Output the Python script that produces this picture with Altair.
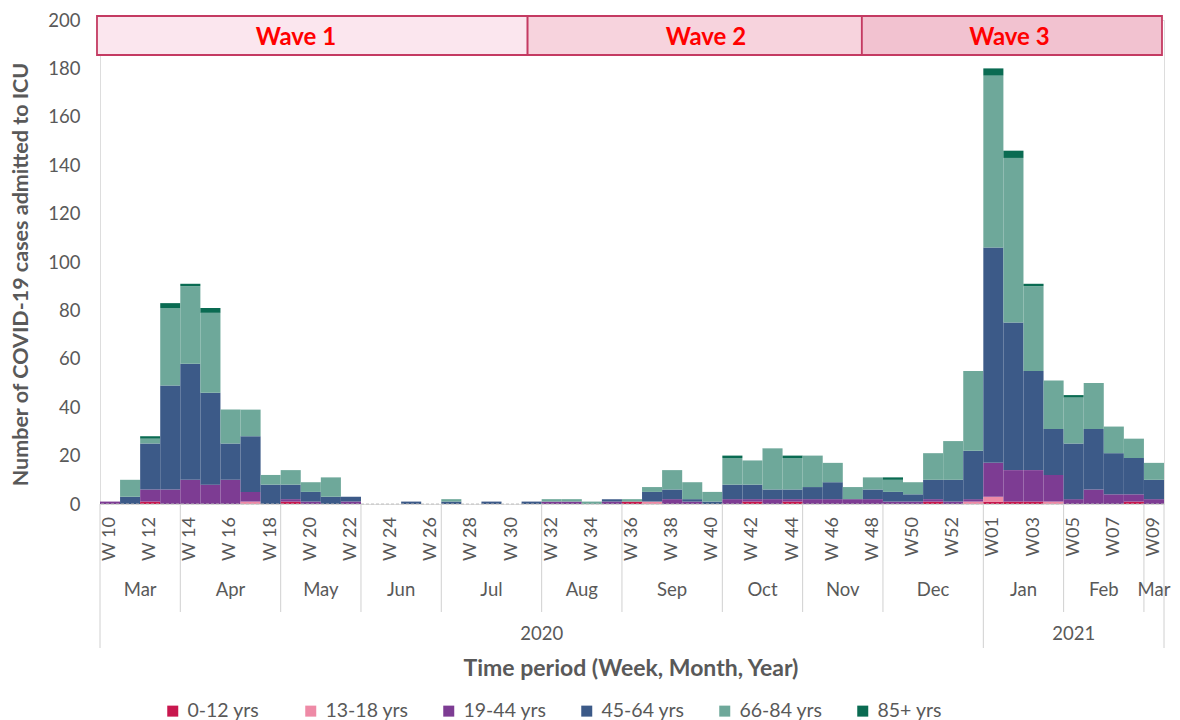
import altair as alt
import pandas as pd

# ---------------- data ----------------
weeks = ["W 10", "W 11", "W 12", "W 13", "W 14", "W 15", "W 16", "W 17", "W 18", "W 19",
         "W 20", "W 21", "W 22", "W 23", "W 24", "W 25", "W 26", "W 27", "W 28", "W 29",
         "W 30", "W 31", "W 32", "W 33", "W 34", "W 35", "W 36", "W 37", "W 38", "W 39",
         "W 40", "W 41", "W 42", "W 43", "W 44", "W 45", "W 46", "W 47", "W 48", "W49",
         "W50", "W51", "W52", "W53", "W01", "W02", "W03", "W04", "W05", "W06",
         "W07", "W08", "W09"]
months = (["Mar"] * 4 + ["Apr"] * 5 + ["May"] * 4 + ["Jun"] * 4 + ["Jul"] * 5 + ["Aug"] * 4
          + ["Sep"] * 5 + ["Oct"] * 4 + ["Nov"] * 4 + ["Dec"] * 5
          + ["Jan"] * 4 + ["Feb"] * 4 + ["Mar"] * 1)
years = ["2020"] * 44 + ["2021"] * 9

groups = ["0-12 yrs", "13-18 yrs", "19-44 yrs", "45-64 yrs", "66-84 yrs", "85+ yrs"]
colors = ["#C8174E", "#EE8AA6", "#7D3C93", "#3C5A88", "#6EA89A", "#0A6B52"]

age_0_12 = [0, 0, 1, 0, 0, 0, 0, 0, 0, 1, 0, 0, 0, 0, 0, 0, 0, 0, 0, 0,
            0, 0, 0, 0, 0, 0, 1, 0, 0, 0, 0, 0, 1, 0, 1, 0, 0, 0, 0, 0,
            0, 1, 0, 0, 1, 1, 1, 0, 0, 0, 0, 1, 0]
age_13_18 = [0, 0, 0, 0, 0, 0, 0, 1, 0, 0, 0, 0, 0, 0, 0, 0, 0, 0, 0, 0,
             0, 0, 0, 0, 0, 0, 0, 1, 0, 0, 0, 0, 0, 0, 0, 0, 0, 0, 0, 0,
             0, 0, 0, 1, 2, 0, 0, 1, 0, 0, 0, 0, 0]
age_19_44 = [1, 0, 5, 6, 10, 8, 10, 4, 0, 1, 1, 0, 1, 0, 0, 0, 0, 0, 0, 0,
             0, 0, 1, 1, 0, 1, 0, 0, 2, 1, 0, 2, 1, 2, 1, 2, 2, 2, 2, 1,
             1, 1, 1, 1, 14, 13, 13, 11, 2, 6, 4, 3, 2]
age_45_64 = [0, 3, 19, 43, 48, 38, 15, 23, 8, 6, 4, 3, 2, 0, 0, 1, 0, 1, 0, 1,
             0, 1, 0, 0, 0, 1, 0, 4, 4, 1, 1, 6, 6, 4, 4, 5, 7, 0, 4, 4,
             3, 8, 9, 20, 89, 61, 41, 19, 23, 25, 17, 15, 8]
age_66_84 = [0, 7, 2, 32, 32, 33, 14, 11, 4, 6, 4, 8, 0, 0, 0, 0, 0, 1, 0, 0,
             0, 0, 1, 1, 1, 0, 1, 2, 8, 7, 4, 11, 10, 17, 13, 13, 8, 5, 5, 5,
             5, 11, 16, 33, 71, 68, 35, 20, 19, 19, 11, 8, 7]
age_85p = [0, 0, 1, 2, 1, 2, 0, 0, 0, 0, 0, 0, 0, 0, 0, 0, 0, 0, 0, 0,
           0, 0, 0, 0, 0, 0, 0, 0, 0, 0, 0, 1, 0, 0, 1, 0, 0, 0, 0, 1,
           0, 0, 0, 0, 3, 3, 1, 0, 1, 0, 0, 0, 0]
series = [age_0_12, age_13_18, age_19_44, age_45_64, age_66_84, age_85p]

wave_names = ["Wave 1", "Wave 2", "Wave 3"]
wave_start = [-0.15, 21.3, 37.95]
wave_end = [21.3, 37.95, 52.9]
wave_label_at = [9.76, 30.18, 45.3]
wave_fill = ["#FBE6EE", "#F7D3DD", "#F2C2D0"]

# ---------------- tables ----------------
rows = []
for i in range(len(weeks)):
    base = 0
    for g, vals in zip(groups, series):
        v = vals[i]
        rows.append({"x0": i, "x1": i + 1, "y0": base, "y1": base + v, "group": g,
                     "week": weeks[i], "value": v})
        base += v
bars_df = pd.DataFrame(rows)

week_lab_df = pd.DataFrame({"xc": [i + 0.5 for i in range(len(weeks)) if i % 2 == 0],
                            "lab": [w for i, w in enumerate(weeks) if i % 2 == 0]})

def runs(keys):
    out = []
    start = 0
    for i in range(1, len(keys) + 1):
        if i == len(keys) or keys[i] != keys[start]:
            out.append((keys[start], start, i))
            start = i
    return out

month_runs = runs(list(zip(years, months)))
month_df = pd.DataFrame({"lab": [k[1] for k, s, e in month_runs],
                         "xc": [(s + e) / 2 for k, s, e in month_runs]})
month_sep = sorted(set([s for k, s, e in month_runs] + [e for k, s, e in month_runs]))
year_runs = runs(years)
year_df = pd.DataFrame({"lab": [k for k, s, e in year_runs],
                        "xc": [(s + e) / 2 for k, s, e in year_runs]})
year_sep = sorted(set([s for k, s, e in year_runs] + [e for k, s, e in year_runs]))
month_only_sep = [m for m in month_sep if m not in year_sep]

wave_df = pd.DataFrame({"name": wave_names, "s": wave_start, "e": wave_end,
                        "lx": wave_label_at, "fill": wave_fill})

# ---------------- chart ----------------
FONT = "Lato"
GREY = "#595959"
W, H = 1064, 484
xs = alt.Scale(domain=[0, len(weeks)], nice=False, zero=False)
ys = alt.Scale(domain=[0, 200], nice=False)
yaxis = alt.Axis(values=list(range(0, 201, 20)), grid=False, domain=False, ticks=False,
                 labelPadding=20, labelFont=FONT, labelFontSize=18.5, labelColor=GREY,
                 title="Number of COVID-19 cases admitted to ICU",
                 titleFont=FONT, titleFontSize=21.5, titleFontWeight="bold", titleColor=GREY,
                 titleAngle=270, titleX=-79, titleY=254, titleAlign="center",
                 titleBaseline="middle")

bars = alt.Chart(bars_df).mark_bar(strokeWidth=0).encode(
    x=alt.X("x0:Q", scale=xs, axis=None),
    x2="x1:Q",
    y=alt.Y("y0:Q", scale=ys, axis=yaxis),
    y2="y1:Q",
    color=alt.Color("group:N", scale=alt.Scale(domain=groups, range=colors),
                    legend=alt.Legend(orient="none", legendX=63, legendY=681,
                                      direction="horizontal", columns=6, gridAlign="all",
                                      columnPadding=30, title=None, symbolType="square",
                                      symbolSize=121, symbolStrokeWidth=0, labelOffset=5,
                                      labelFont=FONT, labelFontSize=19.5, labelColor=GREY,
                                      padding=0)),
)

baseline = alt.Chart(pd.DataFrame({"v": [0]})).mark_rule(
    color="#BFBFBF", strokeDash=[3, 2], strokeWidth=1).encode(
    y=alt.Y("v:Q", scale=ys, axis=yaxis))

waves = alt.Chart(wave_df).mark_rect(stroke="#C43A62", strokeWidth=1.8).encode(
    x=alt.X("s:Q", scale=xs, axis=None), x2="e:Q",
    y=alt.value(-4), y2=alt.value(35),
    fill=alt.Fill("fill:N", scale=None))
wave_text = alt.Chart(wave_df).mark_text(
    font=FONT, fontSize=24, fontWeight="bold", color="#FF0000", baseline="middle").encode(
    x=alt.X("lx:Q", scale=xs, axis=None), y=alt.value(18), text="name:N")

week_text = alt.Chart(week_lab_df).mark_text(
    font=FONT, fontSize=18, color=GREY, angle=270, align="right", baseline="middle").encode(
    x=alt.X("xc:Q", scale=xs, axis=None), y=alt.value(H + 13), text="lab:N")

msep = alt.Chart(pd.DataFrame({"b": month_only_sep})).mark_rule(
    color="#D0D0D0", strokeWidth=1).encode(
    x=alt.X("b:Q", scale=xs, axis=None), y=alt.value(H), y2=alt.value(H + 108))
ysep = alt.Chart(pd.DataFrame({"b": year_sep})).mark_rule(
    color="#D0D0D0", strokeWidth=1).encode(
    x=alt.X("b:Q", scale=xs, axis=None), y=alt.value(H), y2=alt.value(H + 144))

month_text = alt.Chart(month_df).mark_text(
    font=FONT, fontSize=18.5, color=GREY, baseline="middle").encode(
    x=alt.X("xc:Q", scale=xs, axis=None), y=alt.value(H + 86), text="lab:N")
year_text = alt.Chart(year_df).mark_text(
    font=FONT, fontSize=18.5, color=GREY, baseline="middle").encode(
    x=alt.X("xc:Q", scale=xs, axis=None), y=alt.value(H + 130), text="lab:N")

xtitle = alt.Chart(pd.DataFrame({"t": ["Time period (Week, Month, Year)"]})).mark_text(
    font=FONT, fontSize=23, fontWeight="bold", color=GREY, baseline="middle").encode(
    x=alt.value(W / 2 - 1), y=alt.value(H + 165), text="t:N")

chart = alt.layer(
    waves, wave_text, bars, baseline, msep, ysep, week_text, month_text, year_text, xtitle
).properties(
    width=W, height=H,
    autosize=alt.AutoSizeParams(type="none"),
    padding={"left": 92, "top": 12, "right": 8, "bottom": 216},
).configure_view(stroke=None).configure(background="white")

chart.save("out.html", embed_options={"renderer": "svg", "actions": False})
